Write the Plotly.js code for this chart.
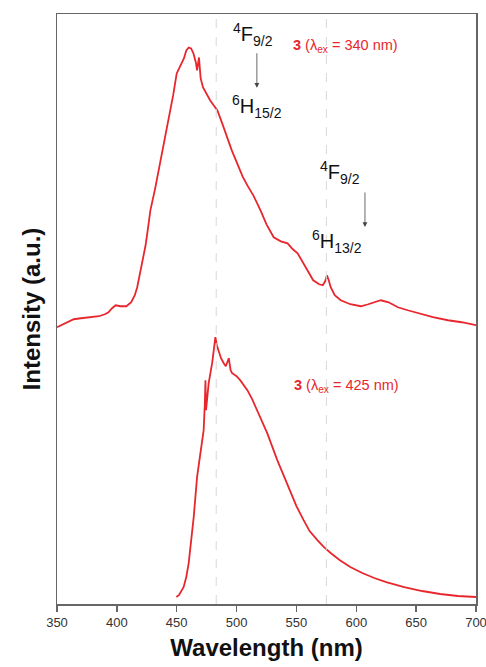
<!DOCTYPE html>
<html>
<head>
<meta charset="utf-8">
<script src="https://cdn.plot.ly/plotly-3.0.1.min.js"></script>
<style>html,body{margin:0;padding:0;background:#fff}#chart{width:486px;height:667px}</style>
</head>
<body>
<div id="chart"></div>
<script>
// Emission spectrum, excitation 340 nm (upper trace, offset)
const wl340 = [350,355,360,364,370,378,385,390,393,396,399,403,408,412,415,417,419,421,424,426,428,432,436,440,444.6,447,450,452,454,456,458,460,462,464,466,467,468.6,470,472,475,478,481,484,488,492,496,500.5,505,509,514,520,525,531,537,542.6,547,551,557,564,569,572,574,575.5,577,578.6,582,587,595,603.8,610,615,620.5,627,634.7,643,651.5,664,676.6,688,700];
const int340 = [277,280,283,285,286,287,288,290,292,296,299,298,298,302,309,317,328,341,359,376,394,416,441,466,491,509,531,536,542,546,554,557,556,551,542,534,547,526,517,510,504,499,494,481,467,454,441,428,419,409,394,380,367,363,361,355,351,338,324,320,319,323,329,324,317,309,304,300,298,300,302,304,302,297,294,291,287,284,282,279];

// Emission spectrum, excitation 425 nm (lower trace)
const wl425 = [449.7,452,455.8,458,460,462,464.2,467,469.8,472.5,473.5,474,474.5,476.7,479.6,481,482.3,483.5,485,487,489.3,491,493.5,495,496.3,500,503,509,513,517,521,525.6,534,540,545,550,556,561,567.5,573,578.6,586,595,605,615,625,640,655,670,685,700];
const int425 = [7,9,17,27,41,64,87,127,154,174,201,224,194,221,241,254,267,259,254,246,241,238,246,234,231,228,224,214,205,194,183,171,144,126,111,98,84,73,64,57,51,44,37,31,26,22,17,13,10,8,7];

// Dy3+ transition markers (nm)
const transitions = [483, 575];
const xTicks = [350,400,450,500,550,600,650,700];

const red = '#e8262d';
const font = 'Liberation Sans, Arial, Helvetica, sans-serif';

const traces = [
  {x: wl340, y: int340, type: 'scatter', mode: 'lines', line: {color: red, width: 1.8}, hoverinfo: 'skip'},
  {x: wl425, y: int425, type: 'scatter', mode: 'lines', line: {color: red, width: 1.8}, hoverinfo: 'skip'}
];

const shapes = transitions.map(t => ({
  type: 'line', xref: 'x', yref: 'paper', x0: t, x1: t, y0: 0, y1: 1,
  line: {color: '#d8d8d8', width: 1, dash: 'dash'}
}));

const labelFont = {family: font, size: 20, color: '#111'};
const redFont = {family: font, size: 14.5, color: red};

const annotations = [
  {xref: 'paper', yref: 'paper', x: 0.468, y: 0.993, text: '<sup>4</sup>F<sub>9/2</sub>', showarrow: false, font: labelFont},
  {xref: 'paper', yref: 'paper', x: 0.477, y: 0.875, ax: 0, ay: -36, text: '', showarrow: true, arrowhead: 2, arrowsize: 1.2, arrowwidth: 0.8, arrowcolor: '#444'},
  {xref: 'paper', yref: 'paper', x: 0.477, y: 0.871, text: '<sup>6</sup>H<sub>15/2</sub>', showarrow: false, font: labelFont},
  {xref: 'paper', yref: 'paper', x: 0.819, y: 0.964, text: '<b>3</b> (λ<sub>ex</sub> = 340 nm)', showarrow: false, font: redFont},
  {xref: 'paper', yref: 'paper', x: 0.728, y: 0.760, text: '<sup>4</sup>F<sub>9/2</sub>', showarrow: false, font: labelFont},
  {xref: 'paper', yref: 'paper', x: 0.735, y: 0.639, ax: 0, ay: -36, text: '', showarrow: true, arrowhead: 2, arrowsize: 1.2, arrowwidth: 0.8, arrowcolor: '#444'},
  {xref: 'paper', yref: 'paper', x: 0.733, y: 0.614, text: '<sup>6</sup>H<sub>13/2</sub>', showarrow: false, font: labelFont},
  {xref: 'paper', yref: 'paper', x: 0.821, y: 0.370, text: '<b>3</b> (λ<sub>ex</sub> = 425 nm)', showarrow: false, font: redFont}
];

const layout = {
  width: 486, height: 667,
  margin: {l: 57, r: 10, t: 14, b: 63},
  paper_bgcolor: '#fff', plot_bgcolor: '#fff',
  showlegend: false,
  font: {family: font, color: '#333'},
  xaxis: {
    range: [350, 700], tickvals: xTicks, ticktext: xTicks.map(String),
    ticks: 'outside', ticklen: 6, tickwidth: 1.5, tickcolor: '#666',
    showline: true, linecolor: '#666', linewidth: 1.5, mirror: true,
    showgrid: false, zeroline: false, ticklabeloverflow: 'allow',
    tickfont: {family: font, size: 13, color: '#333'},
    title: {text: '<b>Wavelength (nm)</b>', font: {family: font, size: 24, color: '#111'}, standoff: 10}
  },
  yaxis: {
    range: [0, 590.5], showticklabels: false, ticks: '',
    showline: true, linecolor: '#666', linewidth: 1.5, mirror: true,
    showgrid: false, zeroline: false,
    title: {text: '<b>Intensity (a.u.)</b>', font: {family: font, size: 24, color: '#111'}, standoff: 8}
  },
  shapes: shapes,
  annotations: annotations
};

Plotly.newPlot('chart', traces, layout, {staticPlot: true, displayModeBar: false});
</script>
</body>
</html>
